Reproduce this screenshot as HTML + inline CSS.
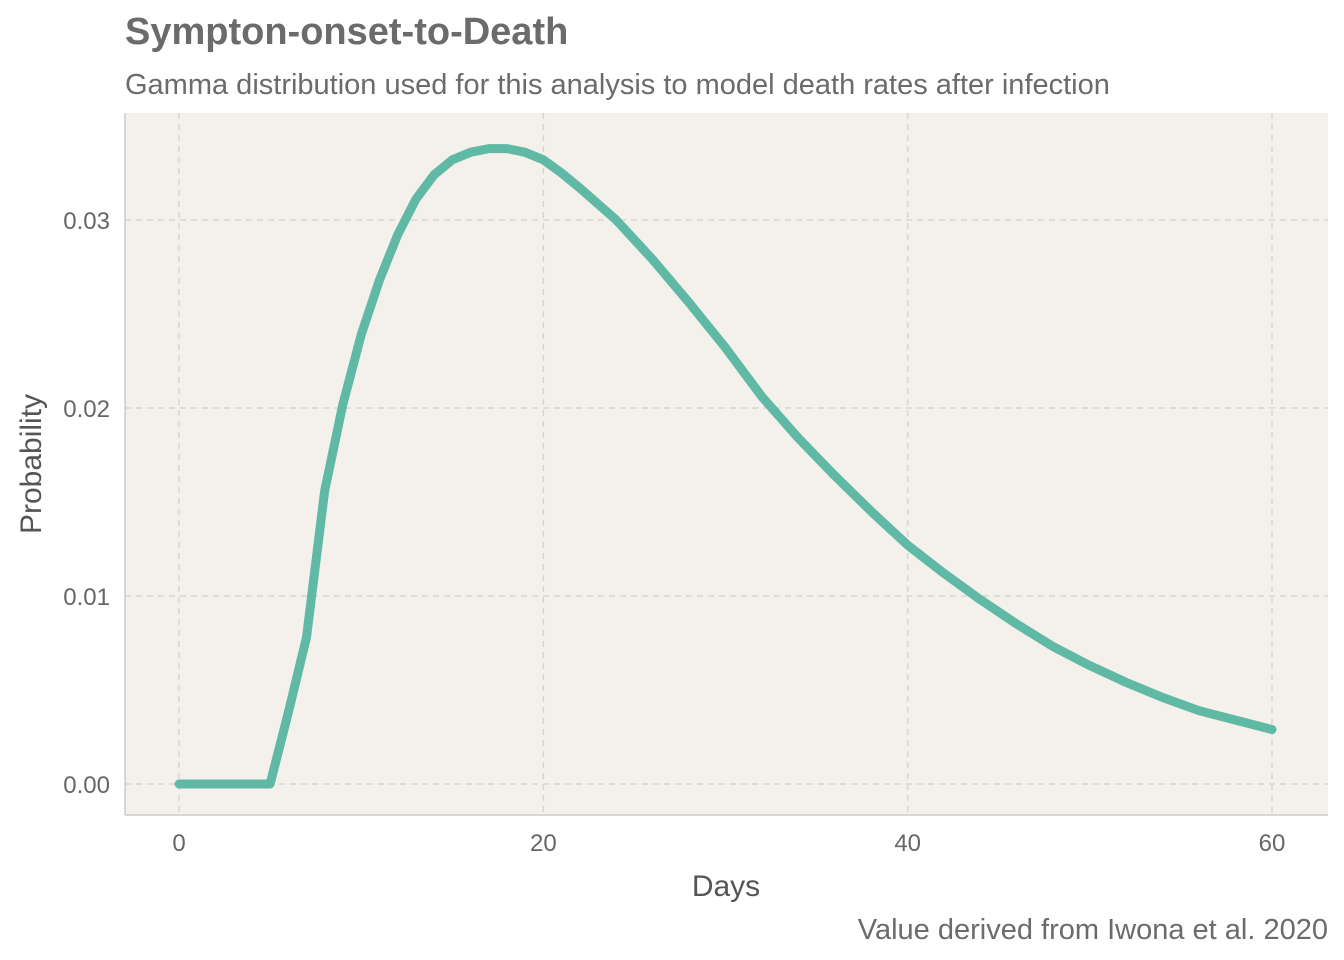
<!DOCTYPE html>
<html><head><meta charset="utf-8"><style>
body{margin:0;background:#fff;}
svg{display:block;font-family:"Liberation Sans",sans-serif;}
</style></head><body>
<svg width="1344" height="960">
<text x="125" y="44" font-size="38" font-weight="bold" fill="#6b6b6b">Sympton-onset-to-Death</text>
<text x="125" y="94" font-size="29" fill="#6b6b6b">Gamma distribution used for this analysis to model death rates after infection</text>
<rect x="125" y="113" width="1203" height="702" fill="#f4f0eb"/>
<g id="grid"></g>
<line x1="125" y1="113" x2="125" y2="815" stroke="#cccccc" stroke-width="1.5"/>
<line x1="125" y1="815" x2="1328" y2="815" stroke="#cccccc" stroke-width="1.5"/>
<g id="ticks"></g>
<path id="curve" fill="none" stroke="#5fb9a4" stroke-width="9" stroke-linejoin="round" stroke-linecap="round"/>
<text x="726" y="896" font-size="30" fill="#555" text-anchor="middle">Days</text>
<text transform="translate(41,464) rotate(-90)" font-size="30" fill="#555" text-anchor="middle">Probability</text>
<text x="1328" y="939" font-size="29" fill="#6b6b6b" text-anchor="end">Value derived from Iwona et al. 2020</text>
</svg>
<script>
const days=[0,1,2,3,4,5,6,7,8,9,10,11,12,13,14,15,16,17,18,19,20,21,22,24,26,28,30,32,34,36,38,40,42,44,46,48,50,52,54,56,58,60];
const probs=[0,0,0,0,0,0,0.0038,0.0078,0.0156,0.0202,0.0239,0.0268,0.0292,0.0311,0.0324,0.0332,0.0336,0.0338,0.0338,0.0336,0.0332,0.0325,0.0317,0.0300,0.0279,0.0256,0.0232,0.0206,0.0184,0.0164,0.0145,0.0127,0.0112,0.0098,0.0085,0.0073,0.0063,0.0054,0.0046,0.0039,0.0034,0.0029];
const xTicks=[0,20,40,60];
const yTicks=[0,0.01,0.02,0.03];
const yLabels=["0.00","0.01","0.02","0.03"];
const X=d=>179+d*(1272-179)/60;
const Y=v=>784-v*(784-220)/0.03;
const NS="http://www.w3.org/2000/svg";
const grid=document.getElementById('grid'),ticks=document.getElementById('ticks');
xTicks.forEach(t=>{
 const l=document.createElementNS(NS,'line');
 l.setAttribute('x1',X(t));l.setAttribute('x2',X(t));l.setAttribute('y1',113);l.setAttribute('y2',815);
 l.setAttribute('stroke','#d9d6d2');l.setAttribute('stroke-width','1.5');l.setAttribute('stroke-dasharray','6,5');
 
 
 grid.appendChild(l);
 const tx=document.createElementNS(NS,'text');
 tx.setAttribute('x',X(t));tx.setAttribute('y',851);tx.setAttribute('font-size','24');tx.setAttribute('fill','#666');tx.setAttribute('text-anchor','middle');
 tx.textContent=t;
 
 
 ticks.appendChild(tx);
});
yTicks.forEach((t,i)=>{
 const l=document.createElementNS(NS,'line');
 l.setAttribute('x1',125);l.setAttribute('x2',1328);l.setAttribute('y1',Y(t));l.setAttribute('y2',Y(t));
 l.setAttribute('stroke','#d9d6d2');l.setAttribute('stroke-width','1.5');l.setAttribute('stroke-dasharray','6,5');
 
 
 grid.appendChild(l);
 const tx=document.createElementNS(NS,'text');
 tx.setAttribute('x',110);tx.setAttribute('y',Y(t)+9);tx.setAttribute('font-size','24');tx.setAttribute('fill','#666');tx.setAttribute('text-anchor','end');
 tx.textContent=yLabels[i];
 
 
 ticks.appendChild(tx);
});
document.getElementById('curve').setAttribute('d',days.map((d,i)=>(i?'L':'M')+X(d).toFixed(1)+','+Y(probs[i]).toFixed(1)).join(''));
</script>
</body></html>
